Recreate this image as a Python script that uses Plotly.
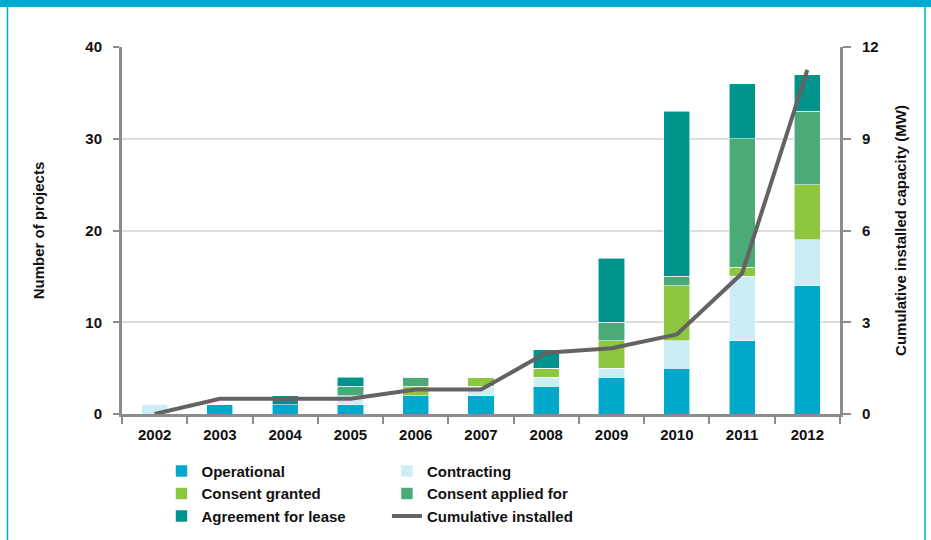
import plotly.graph_objects as go

years = ["2002", "2003", "2004", "2005", "2006", "2007", "2008", "2009", "2010", "2011", "2012"]
operational = [0, 1, 1, 1, 2, 2, 3, 4, 5, 8, 14]
contracting = [1, 0, 0, 1, 0, 1, 1, 1, 3, 7, 5]
consent_granted = [0, 0, 0, 0, 1, 1, 1, 3, 6, 1, 6]
consent_applied = [0, 0, 0, 1, 1, 0, 0, 2, 1, 14, 8]
agreement_lease = [0, 0, 1, 1, 0, 0, 2, 7, 18, 6, 4]
cumulative_mw = [0, 0.5, 0.5, 0.5, 0.8, 0.8, 2.0, 2.15, 2.6, 4.6, 11.25]

FONT = "Liberation Sans"
edge = dict(color="rgba(255,255,255,0.7)", width=0.8)

fig = go.Figure()
bar_series = [
    ("Operational", operational, "#00A8CC", "legend"),
    ("Contracting", contracting, "#CBEDF4", "legend2"),
    ("Consent granted", consent_granted, "#8DC63F", "legend"),
    ("Consent applied for", consent_applied, "#4BAA78", "legend2"),
    ("Agreement for lease", agreement_lease, "#00938B", "legend"),
]
for name, vals, col, lg in bar_series:
    fig.add_trace(go.Bar(x=years, y=vals, name=name, marker=dict(color=col, line=edge),
                         legend=lg, yaxis="y"))

fig.add_trace(go.Scatter(x=years, y=cumulative_mw, name="Cumulative installed", mode="lines",
                         line=dict(color="#656263", width=4), yaxis="y2", legend="legend2"))

axis_line = "#8C8C8C"
fig.update_layout(
    width=931, height=540,
    margin=dict(l=122, r=91, t=47, b=126, autoexpand=False),
    paper_bgcolor="white", plot_bgcolor="white",
    barmode="stack", bargap=0.6,
    font=dict(family=FONT, size=15, color="#111111", weight="bold"),
    xaxis=dict(type="category", showline=True, linecolor=axis_line, linewidth=3,
               ticks="outside", tickson="boundaries", ticklen=7, tickwidth=2, tickcolor=axis_line,
               ticklabelstandoff=5,
               tickfont=dict(size=15, weight="bold"), showgrid=False),
    yaxis=dict(range=[0, 40], dtick=10, showline=True, linecolor=axis_line, linewidth=3,
               ticks="outside", ticklen=6, tickwidth=2, tickcolor=axis_line, ticklabelstandoff=8,
               showgrid=True, gridcolor="#DDDDDD", gridwidth=1.5, zeroline=False,
               tickfont=dict(size=15, weight="bold"),
               title=dict(text="Number of projects", font=dict(size=15, weight="bold"), standoff=38)),
    yaxis2=dict(range=[0, 12], dtick=3, overlaying="y", side="right", showline=True,
                linecolor=axis_line, linewidth=3, ticks="outside", ticklen=8, tickwidth=2,
                tickcolor=axis_line, showgrid=False, zeroline=False, ticklabelstandoff=8,
                tickfont=dict(size=15, weight="bold"),
                title=dict(text="Cumulative installed capacity (MW)", font=dict(size=15, weight="bold"),
                           standoff=18)),
    legend=dict(x=0.055, y=-0.111, xanchor="left", yanchor="top", orientation="v",
                traceorder="normal", font=dict(size=15, weight="bold"), tracegroupgap=0,
                bgcolor="rgba(0,0,0,0)"),
    legend2=dict(x=0.369, y=-0.111, xanchor="left", yanchor="top", orientation="v",
                 traceorder="normal", font=dict(size=15, weight="bold"), tracegroupgap=0,
                 bgcolor="rgba(0,0,0,0)"),
    shapes=[
        dict(type="rect", xref="paper", yref="paper", x0=-0.18, x1=1.14, y0=1.109, y1=1.2,
             fillcolor="#00A8CF", line=dict(width=0), layer="above"),
        dict(type="line", xref="paper", yref="paper", x0=-0.1595, x1=-0.1595, y0=1.11, y1=-0.36,
             line=dict(color="#00A8CF", width=1.5)),
        dict(type="line", xref="paper", yref="paper", x0=1.1184, x1=1.1184, y0=1.11, y1=-0.36,
             line=dict(color="#00A8CF", width=1.5)),
    ],
)

fig.write_html("out.html", config={"displayModeBar": False},
               post_script="document.body.style.margin='0';")
